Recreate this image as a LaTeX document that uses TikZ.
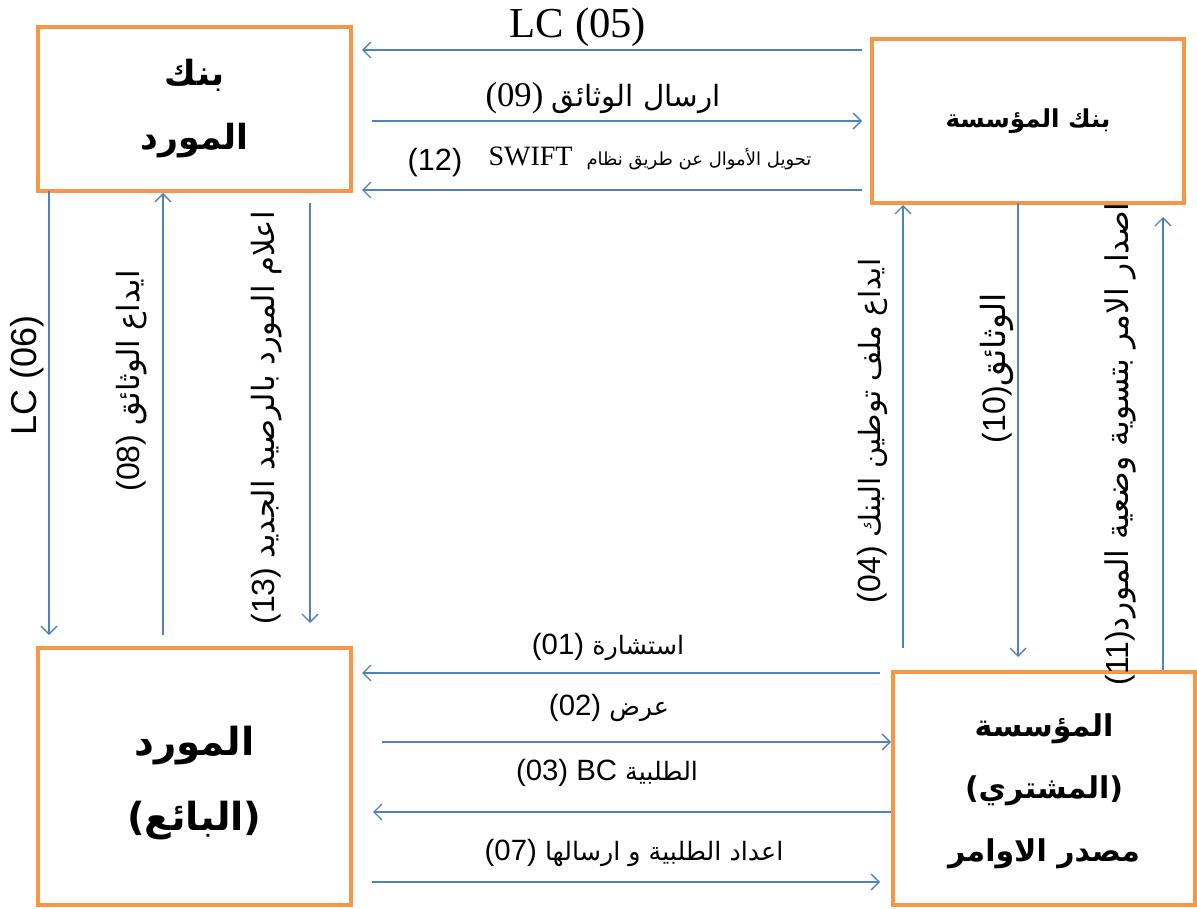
\documentclass[tikz,border=0pt]{standalone}
\usepackage{fontspec}
\setmainfont{Liberation Serif}
\newfontfamily\lsans{Liberation Sans}
\newfontfamily\arsans[Script=Arabic]{DejaVu Sans}
\TeXXeTstate=1
\usetikzlibrary{arrows.meta}
\definecolor{boxorange}{HTML}{F79646}
\definecolor{arrowblue}{HTML}{4F81BD}
\newcommand\arsz[2]{{\fontsize{#1}{#1}\selectfont\arsans\beginR #2\endR}}
\begin{document}
\begin{tikzpicture}[x=0.75pt,y=-0.75pt,
  box/.style={draw=boxorange,line width=3pt,inner sep=0pt,align=center,fill=white},
  boxtext/.style={inner sep=0pt,align=center},
  arr/.style={draw=arrowblue,line width=1pt,-{Straight Barb[length=6pt,width=12pt,line width=1pt]}},
  lbl/.style={inner sep=0pt,font=\fontsize{22}{24}\selectfont\lsans},
  vlbl/.style={inner sep=0pt,rotate=90,font=\fontsize{24}{26}\selectfont\lsans},
]
\useasboundingbox (0,0) rectangle (1197,909);

% boxes
\node[box,minimum width=234.75pt,minimum height=123pt,font=\fontsize{26}{48}\selectfont\arsans\bfseries] (tl) at (194.5,109) {\beginR بنك\endR\\\beginR المورد\endR};
\node[box,minimum width=234pt,minimum height=123pt,font=\fontsize{18.5}{24}\selectfont\arsans\bfseries] (tr) at (1028,121) {\beginR بنك المؤسسة\endR};
\node[box,minimum width=234.75pt,minimum height=192.75pt] (bl) at (194.5,776.5) {};
\node[boxtext,font=\fontsize{29}{56}\selectfont\arsans\bfseries] (bltxt) at (194.5,783) {\beginR المورد\endR\\\beginR(البائع)\endR};
\node[box,minimum width=226.5pt,minimum height=174.75pt] (br) at (1044,788.5) {};
\node[boxtext,font=\fontsize{22.5}{47}\selectfont\arsans\bfseries] (brtxt) at (1044,791) {\beginR المؤسسة\endR\\\beginR(المشتري)\endR\\\beginR مصدر الاوامر\endR};

% top horizontal arrows
\coordinate (a05s) at (862,50);  \coordinate (a05e) at (362,50);
\coordinate (a09s) at (372,121); \coordinate (a09e) at (862,121);
\coordinate (a12s) at (862,190); \coordinate (a12e) at (362,190);
\draw[arr] (a05s) -- (a05e);
\draw[arr] (a09s) -- (a09e);
\draw[arr] (a12s) -- (a12e);
\node[inner sep=0pt,font=\fontsize{32}{34}\selectfont] (l05) at (578,27) {LC (05)};
\node[inner sep=0pt,font=\fontsize{26}{28}\selectfont] (l09) at (603,98) {(09) \arsz{22}{ارسال الوثائق}};
\node[inner sep=0pt,font=\fontsize{21}{24}\selectfont] (l12a) at (650,158) {SWIFT\ \ \arsz{13.5}{تحويل الأموال عن طريق نظام}};
\node[lbl,font=\fontsize{23}{24}\selectfont\lsans] (l12b) at (435,163) {(12)};

% left vertical arrows
\coordinate (a06s) at (49,191);  \coordinate (a06e) at (49,635);
\coordinate (a08s) at (163,635);
\coordinate (a13s) at (310,203); \coordinate (a13e) at (310,623);
\draw[arr] (a06s) -- (a06e);
\draw[arr] (a08s) -- (a08s |- tl.south);
\draw[arr] (a13s) -- (a13e);
\node[vlbl,font=\fontsize{27}{28}\selectfont\lsans] (l06) at (27,375) {LC (06)};
\node[vlbl] (l08) at (132,381) {(08) \arsz{23}{ايداع الوثائق}};
\node[vlbl] (l13) at (267,418) {(13) \arsz{23}{اعلام المورد بالرصيد الجديد}};

% right vertical arrows
\coordinate (a04s) at (903,648);
\coordinate (a10s) at (1018,203); \coordinate (a10e) at (1018,657);
\coordinate (a11s) at (1163,670); \coordinate (a11e) at (1163,217);
\draw[arr] (a04s) -- (a04s |- tr.south);
\draw[arr] (a10s) -- (a10e);
\draw[arr] (a11s) -- (a11e);
\node[vlbl] (l04) at (872,431) {(04) \arsz{22}{ايداع ملف توطين البنك}};
\node[vlbl] (l10) at (997,368) {(10)\arsz{25}{الوثائق}};
\node[vlbl] (l11) at (1120,444) {(11)\arsz{23.5}{اصدار الامر بتسوية وضعية المورد}};

% bottom horizontal arrows
\coordinate (a01s) at (880,673); \coordinate (a01e) at (362,673);
\coordinate (a02s) at (382,742);
\coordinate (a03e) at (373,812);
\coordinate (a07s) at (372,882); \coordinate (a07e) at (880,882);
\draw[arr] (a01s) -- (a01e);
\draw[arr] (a02s) -- (a02s -| br.west);
\draw[arr] (a03e -| br.west) -- (a03e);
\draw[arr] (a07s) -- (a07e);
\node[lbl] (l01) at (608,647) {(01) \arsz{19}{استشارة}};
\node[lbl] (l02) at (609,708) {(02) \arsz{19}{عرض}};
\node[lbl] (l03) at (607,773) {(03) BC \arsz{19}{الطلبية}};
\node[lbl] (l07) at (634,853) {(07) \arsz{19}{اعداد الطلبية و ارسالها}};
\end{tikzpicture}
\end{document}
